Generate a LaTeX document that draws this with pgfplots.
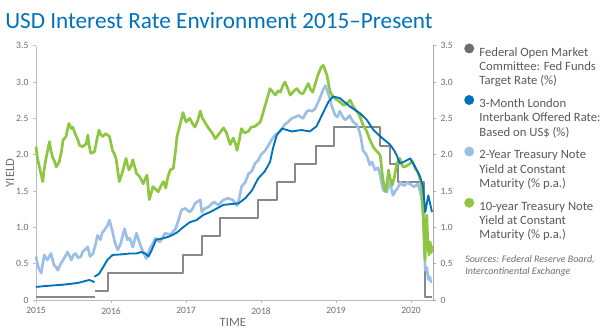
\documentclass[border=0pt]{standalone}
\usepackage{fontspec}
\setmainfont{Carlito}
\usepackage{pgfplots}
\pgfplotsset{compat=1.18}
\definecolor{ttl}{HTML}{0072BC}
\definecolor{fedc}{HTML}{87888A}
\definecolor{fedm}{HTML}{6D6E71}
\definecolor{libc}{HTML}{0072BC}
\definecolor{twoc}{HTML}{9CBFE7}
\definecolor{tenc}{HTML}{8DC63F}
\definecolor{axc}{HTML}{BCBDC0}
\definecolor{axr}{HTML}{A7A9AC}
\definecolor{lblc}{HTML}{6D6E71}
\definecolor{legc}{HTML}{58595B}
\begin{document}
\begin{tikzpicture}
\useasboundingbox (0,0) rectangle (450pt,247.5pt);
\node[anchor=base west, text=ttl, font=\fontsize{17.4}{19}\selectfont, inner sep=0pt] at (3.75pt,226pt) {USD Interest Rate Environment 2015–Present};
\begin{axis}[
  at={(27pt,22.5pt)}, anchor=south west,
  scale only axis, width=297.75pt, height=190.7pt,
  xmin=2015, xmax=2020.293, ymin=0, ymax=3.5,
  clip=false,
  axis x line*=bottom, axis y line*=left,
  axis line style={axc, line width=0.7pt},
  xtick={2015,2016,2017,2018,2019,2020},
  xticklabels={2015,2016,2017,2018,2019,2020},
  ytick={0,0.5,1,1.5,2,2.5,3,3.5},
  yticklabels={0,0.5,1.0,1.5,2.0,2.5,3.0,3.5},
  /pgf/number format/assume math mode=true,
  tick align=outside, major tick length=2.2pt,
  tick style={axc, line width=0.6pt},
  ticklabel style={font=\fontsize{7.2}{8}\selectfont, text=lblc},
  xlabel={TIME}, ylabel={YIELD},
  label style={font=\fontsize{9.5}{10}\selectfont, text=lblc},
  xlabel style={at={(axis description cs:0.496,-0.089)}, anchor=center},
  ylabel style={at={(axis description cs:-0.0655,0.5)}, anchor=center},
  legend style={at={(1.0788,1.0087)}, anchor=north west, draw=none, fill=none,
    inner sep=0pt, outer sep=0pt, row sep=6.3pt, column sep=4pt,
    font=\fontsize{9.5}{10.7}\selectfont, text=legc,
    nodes={align=left, inner sep=0pt}},
  legend cell align=left,
  legend image code/.code={\fill[#1] (0pt,13.9pt) circle (3.5pt);},
  line join=round,
]
% Fed funds target rate
\addplot[fedc, line width=1.5pt, forget plot] coordinates {(2015,0.045) (2015.78,0.045)};
\addplot[fedc, line width=1.5pt, const plot, forget plot] coordinates {
(2015.78,0.125) (2015.96,0.375) (2016.96,0.625) (2017.21,0.875) (2017.45,1.125)
(2017.96,1.375) (2018.21,1.625) (2018.45,1.875) (2018.73,2.125) (2018.97,2.375)
(2019.59,2.125) (2019.72,1.875) (2019.83,1.625) (2020.17,1.125) (2020.19,0.045) (2020.285,0.045)};
% 2-year treasury
\addplot[twoc, line width=2pt, forget plot] coordinates {
(2015.00,0.60) (2015.02,0.50) (2015.035,0.44) (2015.07,0.37) (2015.09,0.50) (2015.11,0.62)
(2015.13,0.58) (2015.15,0.55) (2015.20,0.64) (2015.22,0.56) (2015.24,0.48) (2015.27,0.45)
(2015.29,0.41) (2015.33,0.50) (2015.36,0.55) (2015.39,0.60) (2015.42,0.66) (2015.45,0.60)
(2015.47,0.55) (2015.50,0.62) (2015.53,0.64) (2015.56,0.58) (2015.60,0.60) (2015.62,0.66)
(2015.65,0.69) (2015.69,0.73) (2015.72,0.60) (2015.76,0.64) (2015.79,0.75) (2015.82,0.89)
(2015.86,0.83) (2015.88,0.92) (2015.91,0.96) (2015.95,1.02) (2015.98,1.10) (2016.02,0.94)
(2016.05,0.80) (2016.09,0.69) (2016.13,0.78) (2016.16,0.90) (2016.18,0.98) (2016.22,0.83)
(2016.25,0.85) (2016.29,0.73) (2016.34,0.92) (2016.37,0.82) (2016.40,0.73) (2016.44,0.64)
(2016.47,0.57) (2016.50,0.65) (2016.52,0.71) (2016.56,0.78) (2016.59,0.85) (2016.65,0.80)
(2016.69,0.86) (2016.72,0.92) (2016.79,0.90) (2016.86,0.98) (2016.90,1.10) (2016.94,1.24)
(2016.99,1.26) (2017.05,1.21) (2017.09,1.26) (2017.12,1.33) (2017.19,1.38) (2017.21,1.21)
(2017.25,1.26) (2017.30,1.28) (2017.37,1.35) (2017.43,1.31) (2017.50,1.38) (2017.56,1.40)
(2017.62,1.38) (2017.68,1.30) (2017.71,1.40) (2017.74,1.56) (2017.79,1.62) (2017.83,1.73)
(2017.88,1.78) (2017.92,1.88) (2017.96,1.92) (2018.00,2.00) (2018.05,2.05) (2018.10,2.13)
(2018.15,2.22) (2018.19,2.27) (2018.26,2.33) (2018.32,2.42) (2018.36,2.45) (2018.41,2.50)
(2018.46,2.52) (2018.50,2.54) (2018.56,2.50) (2018.60,2.58) (2018.63,2.61) (2018.68,2.60)
(2018.72,2.63) (2018.76,2.72) (2018.79,2.79) (2018.83,2.90) (2018.86,2.95) (2018.88,2.89)
(2018.91,2.80) (2018.94,2.68) (2018.99,2.54) (2019.02,2.52) (2019.05,2.60) (2019.09,2.52)
(2019.12,2.48) (2019.15,2.50) (2019.18,2.54) (2019.23,2.45) (2019.27,2.42) (2019.30,2.36)
(2019.33,2.25) (2019.36,2.06) (2019.41,1.99) (2019.45,1.86) (2019.48,1.90) (2019.52,1.79)
(2019.56,1.82) (2019.59,1.72) (2019.61,1.60) (2019.63,1.51) (2019.68,1.49) (2019.70,1.58)
(2019.72,1.63) (2019.74,1.52) (2019.76,1.44) (2019.79,1.50) (2019.81,1.52) (2019.86,1.62)
(2019.89,1.58) (2019.92,1.58) (2019.95,1.62) (2019.98,1.60) (2020.01,1.58) (2020.04,1.56)
(2020.07,1.58) (2020.09,1.60) (2020.12,1.50) (2020.14,1.42) (2020.165,1.14) (2020.18,0.65)
(2020.19,0.41) (2020.21,0.45) (2020.23,0.28) (2020.25,0.32) (2020.265,0.25) (2020.28,0.25)};
% 10-year treasury
\addplot[tenc, line width=2pt, forget plot] coordinates {
(2015.00,2.11) (2015.02,1.95) (2015.045,1.83) (2015.07,1.72) (2015.09,1.63) (2015.11,1.80)
(2015.13,1.93) (2015.16,2.08) (2015.18,2.18) (2015.20,2.05) (2015.22,1.97) (2015.25,1.90)
(2015.27,1.83) (2015.31,1.90) (2015.34,2.05) (2015.36,2.20) (2015.40,2.25) (2015.42,2.35)
(2015.44,2.43) (2015.47,2.36) (2015.49,2.38) (2015.53,2.27) (2015.56,2.20) (2015.58,2.13)
(2015.62,2.11) (2015.67,2.15) (2015.69,2.27) (2015.71,2.12) (2015.73,2.02) (2015.78,2.04)
(2015.81,2.20) (2015.84,2.34) (2015.86,2.28) (2015.89,2.25) (2015.93,2.29) (2015.98,2.25)
(2016.02,2.06) (2016.05,2.00) (2016.07,1.93) (2016.09,1.78) (2016.11,1.63) (2016.14,1.72)
(2016.16,1.79) (2016.20,1.95) (2016.22,1.86) (2016.24,1.79) (2016.27,1.85) (2016.29,1.93)
(2016.32,1.82) (2016.34,1.74) (2016.38,1.70) (2016.43,1.60) (2016.46,1.68) (2016.48,1.72)
(2016.51,1.38) (2016.53,1.45) (2016.56,1.56) (2016.60,1.52) (2016.63,1.49) (2016.67,1.58)
(2016.70,1.63) (2016.73,1.54) (2016.76,1.70) (2016.79,1.79) (2016.83,1.81) (2016.86,2.05)
(2016.88,2.25) (2016.92,2.41) (2016.96,2.58) (2017.00,2.45) (2017.05,2.50) (2017.09,2.42)
(2017.12,2.38) (2017.16,2.48) (2017.19,2.60) (2017.22,2.50) (2017.25,2.45) (2017.29,2.38)
(2017.32,2.34) (2017.36,2.28) (2017.39,2.22) (2017.45,2.30) (2017.50,2.37) (2017.54,2.30)
(2017.57,2.20) (2017.59,2.14) (2017.63,2.23) (2017.66,2.15) (2017.68,2.06) (2017.71,2.20)
(2017.74,2.36) (2017.78,2.30) (2017.83,2.32) (2017.87,2.38) (2017.92,2.39) (2017.99,2.45)
(2018.02,2.55) (2018.05,2.66) (2018.09,2.80) (2018.12,2.91) (2018.16,2.86) (2018.19,2.82)
(2018.23,2.88) (2018.26,2.86) (2018.29,2.95) (2018.32,3.00) (2018.36,2.90) (2018.39,2.82)
(2018.44,2.88) (2018.48,2.91) (2018.52,2.85) (2018.56,2.84) (2018.60,2.92) (2018.63,2.98)
(2018.66,2.90) (2018.69,2.86) (2018.73,3.00) (2018.76,3.10) (2018.80,3.20) (2018.83,3.23)
(2018.86,3.15) (2018.88,3.09) (2018.92,2.87) (2018.96,2.80) (2018.99,2.77) (2019.05,2.73)
(2019.10,2.68) (2019.14,2.70) (2019.19,2.75) (2019.22,2.68) (2019.25,2.63) (2019.29,2.58)
(2019.32,2.52) (2019.36,2.41) (2019.41,2.32) (2019.45,2.21) (2019.50,2.10) (2019.54,2.05)
(2019.57,2.02) (2019.59,1.99) (2019.62,1.70) (2019.64,1.58) (2019.66,1.49) (2019.68,1.60)
(2019.70,1.79) (2019.72,1.68) (2019.75,1.58) (2019.78,1.70) (2019.81,1.88) (2019.85,1.95)
(2019.88,1.86) (2019.90,1.83) (2019.93,1.84) (2019.96,1.86) (2019.99,1.88) (2020.01,1.92)
(2020.03,1.88) (2020.05,1.83) (2020.08,1.78) (2020.10,1.74) (2020.12,1.66) (2020.14,1.56)
(2020.165,1.10) (2020.187,0.55) (2020.20,0.90) (2020.21,1.17) (2020.225,0.75) (2020.24,0.62)
(2020.255,0.80) (2020.27,0.65) (2020.28,0.75)};
% 3-month LIBOR
\addplot[libc, line width=1.4pt, forget plot] coordinates {
(2015.00,0.18) (2015.10,0.19) (2015.22,0.20) (2015.35,0.21) (2015.44,0.22) (2015.52,0.23)
(2015.58,0.24) (2015.65,0.26) (2015.71,0.275) (2015.75,0.26) (2015.78,0.245)};
\addplot[libc, line width=1.4pt, forget plot] coordinates {
(2015.78,0.32) (2015.84,0.36) (2015.90,0.46) (2015.95,0.55) (2016.02,0.62) (2016.16,0.63)
(2016.25,0.64) (2016.34,0.64) (2016.40,0.66) (2016.46,0.64) (2016.50,0.60) (2016.54,0.68)
(2016.60,0.83) (2016.70,0.85) (2016.79,0.88) (2016.88,0.93) (2016.96,1.00) (2017.05,1.07)
(2017.14,1.10) (2017.23,1.17) (2017.32,1.21) (2017.41,1.26) (2017.50,1.31) (2017.60,1.32)
(2017.70,1.33) (2017.79,1.40) (2017.88,1.51) (2017.96,1.67) (2018.05,1.77) (2018.12,1.90)
(2018.16,2.09) (2018.21,2.27) (2018.28,2.36) (2018.41,2.32) (2018.54,2.34) (2018.65,2.32)
(2018.74,2.39) (2018.81,2.54) (2018.90,2.73) (2018.96,2.80) (2019.05,2.78) (2019.19,2.66)
(2019.32,2.57) (2019.41,2.48) (2019.50,2.34) (2019.57,2.27) (2019.65,2.20) (2019.72,2.14)
(2019.78,2.05) (2019.81,1.99) (2019.85,1.88) (2019.92,1.91) (2019.99,1.95) (2020.05,1.84)
(2020.12,1.70) (2020.16,1.56) (2020.19,1.21) (2020.23,1.44) (2020.28,1.21)};
\addlegendimage{fedm}
\addlegendentry{Federal Open Market\\Committee: Fed Funds\\Target Rate (\%)}
\addlegendimage{libc}
\addlegendentry{3-Month London\\Interbank Offered Rate:\\Based on US\$ (\%)}
\addlegendimage{twoc}
\addlegendentry{2-Year Treasury Note\\Yield at Constant\\Maturity (\% p.a.)}
\addlegendimage{tenc}
\addlegendentry{10-year Treasury Note\\Yield at Constant\\Maturity (\% p.a.)}
\node[anchor=base west, align=left, inner sep=0pt, text=lblc,
  font=\itshape\fontsize{7.5}{8.6}\selectfont]
  at (rel axis cs:1.0806,0.102) {Sources: Federal Reserve Board,\\Intercontinental Exchange};
\end{axis}
\begin{axis}[
  at={(27pt,22.5pt)}, anchor=south west,
  scale only axis, width=297.75pt, height=190.7pt,
  xmin=2015, xmax=2020.293, ymin=0, ymax=3.5,
  axis x line=none, axis y line*=right,
  axis line style={axr, line width=0.7pt},
  ytick={0,0.5,1,1.5,2,2.5,3,3.5},
  yticklabels={0,0.5,1.0,1.5,2.0,2.5,3.0,3.5},
  /pgf/number format/assume math mode=true,
  tick align=outside, major tick length=2.2pt,
  tick style={axr, line width=0.6pt},
  ticklabel style={font=\fontsize{7.2}{8}\selectfont, text=lblc},
]
\addplot[draw=none, forget plot] coordinates {(2015,0)};
\end{axis}
\end{tikzpicture}
\end{document}
